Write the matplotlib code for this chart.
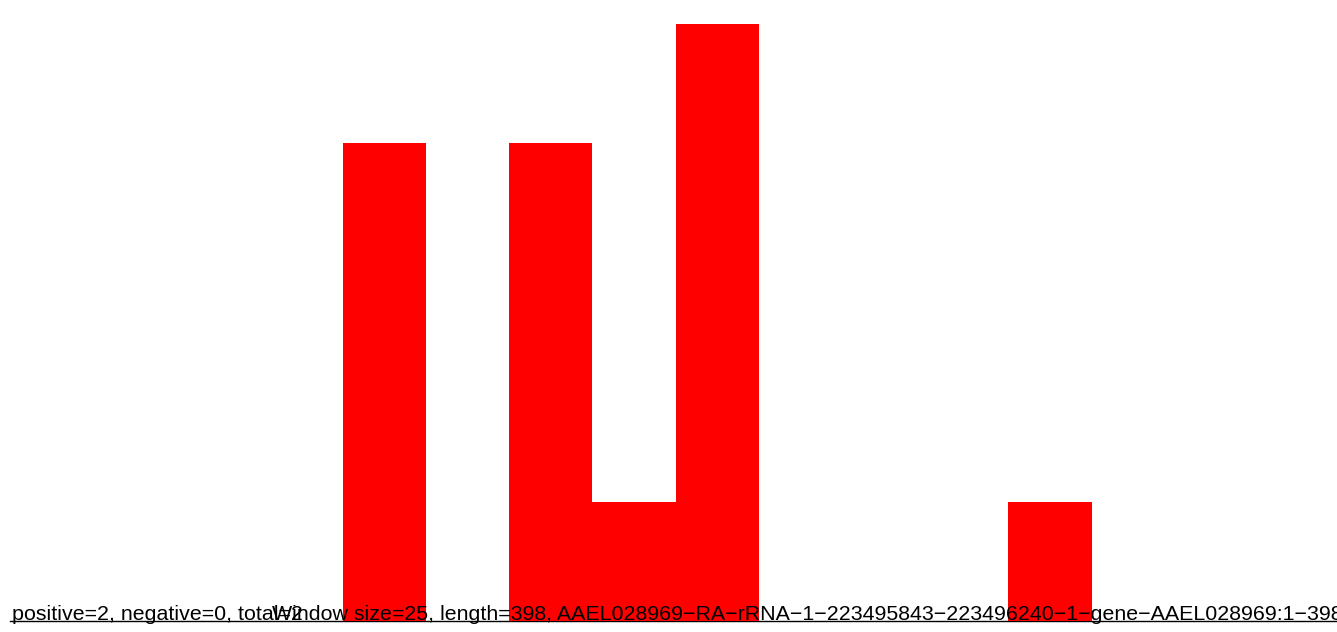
import matplotlib.pyplot as plt

plt.rcParams['font.family'] = ['Liberation Sans', 'DejaVu Sans']

window = 25
length = 398
counts = [0, 0, 0, 0, 4, 0, 4, 1, 5, 0, 0, 0, 1, 0, 0, 0]
starts = [i * window for i in range(len(counts))]

stats_label = "positive=2, negative=0, total=2"
info_label = ("Window size=25, length=398, "
              "AAEL028969\u2212RA\u2212rRNA\u22121\u2212223495843\u2212223496240"
              "\u22121\u2212gene\u2212AAEL028969:1\u2212398")

fig = plt.figure(figsize=(13.37, 6.32), dpi=100)
ax = fig.add_axes([0, 0, 1, 1])

ax.plot([0, 410], [0, 0], color='black', linewidth=1.0, zorder=1)
ax.bar(starts, counts, width=window, align='edge', color='#ff0000', linewidth=0, zorder=2)

ax.text(12 / 1337, 1 - 620 / 632, stats_label, transform=ax.transAxes,
        fontsize=15.4, va='baseline', ha='left', zorder=3)
ax.text(272 / 1337, 1 - 620 / 632, info_label, transform=ax.transAxes,
        fontsize=15.4, va='baseline', ha='left', zorder=3)

ax.set_xlim(-3.0, 398.7)
ax.set_ylim(-0.088, 5.197)
ax.axis('off')

fig.savefig('out.png', dpi=100)
